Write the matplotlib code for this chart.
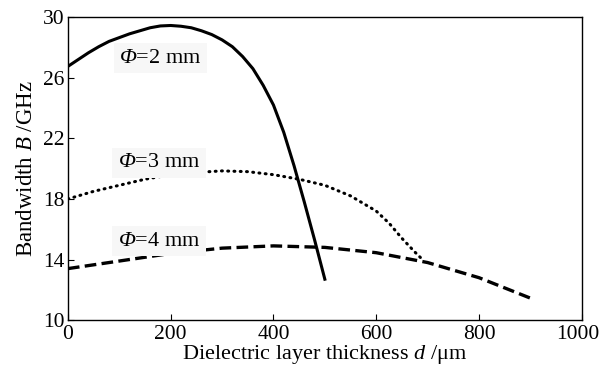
import matplotlib
matplotlib.use('Agg')
import matplotlib.pyplot as plt
import matplotlib.transforms as mtransforms

plt.rcParams['font.family'] = ['Liberation Serif', 'DejaVu Serif']
plt.rcParams['mathtext.fontset'] = 'custom'
plt.rcParams['mathtext.rm'] = 'Liberation Serif'
plt.rcParams['mathtext.it'] = 'Liberation Serif:italic'
plt.rcParams['mathtext.sf'] = 'Liberation Serif:italic'  # used for italic Phi

# Phi = 2 mm (solid)
d_2mm = [0, 20, 40, 60, 80, 100, 120, 140, 160, 180, 200, 220, 240, 260, 280, 300,
         320, 340, 360, 380, 400, 420, 440, 460, 480, 500]
b_2mm = [26.75, 27.2, 27.65, 28.05, 28.4, 28.65, 28.9, 29.1, 29.3, 29.42, 29.45, 29.4,
         29.3, 29.1, 28.85, 28.5, 28.05, 27.4, 26.6, 25.5, 24.2, 22.4, 20.2, 17.8, 15.3, 12.7]

# Phi = 3 mm (dotted)
d_3mm = [0, 50, 100, 150, 200, 250, 300, 350, 400, 450, 500, 550, 600, 625, 650, 675, 690]
b_3mm = [18.0, 18.5, 18.9, 19.3, 19.6, 19.75, 19.85, 19.8, 19.6, 19.3, 18.9, 18.2, 17.2,
         16.4, 15.4, 14.5, 14.0]

# Phi = 4 mm (dashed)
d_4mm = [0, 100, 200, 300, 400, 500, 600, 700, 800, 900]
b_4mm = [13.4, 13.9, 14.4, 14.75, 14.9, 14.8, 14.45, 13.8, 12.8, 11.45]

labels = [r'$\mathsf{\Phi}$=2 mm', r'$\mathsf{\Phi}$=3 mm', r'$\mathsf{\Phi}$=4 mm']
label_pos = [(100, 27.3), (97, 20.4), (97, 15.2)]

x_ticks = [0, 200, 400, 600, 800, 1000]
y_ticks = [10, 14, 18, 22, 26, 30]

fig = plt.figure(figsize=(6.01, 3.65), dpi=100)
ax = fig.add_axes([0.113, 0.123, 0.855, 0.830])

ax.plot(d_2mm, b_2mm, color='black', linewidth=2.2, linestyle='-')
ax.plot(d_3mm, b_3mm, color='black', linewidth=2.2, linestyle=(0, (0.3, 1.75)),
        dash_capstyle='round')
ax.plot(d_4mm, b_4mm, color='black', linewidth=2.4, linestyle=(0, (3.5, 1.6)))

for lab, (x, y) in zip(labels, label_pos):
    ax.text(x, y, lab, fontsize=16, ha='left', va='center',
            bbox=dict(facecolor='#f7f7f7', edgecolor='none', pad=4))

ax.set_xlim(0, 1000)
ax.set_ylim(10, 30)
ax.set_xticks(x_ticks)
ax.set_yticks(y_ticks)
ax.tick_params(direction='in', length=4, width=0.8, labelsize=15.5,
               top=False, right=False)
ax.tick_params(axis='x', pad=3.5)
ax.tick_params(axis='y', pad=2.5)
for s in ax.spines.values():
    s.set_linewidth(1.0)

# last x tick label sits a little to the left, as in the original
last = ax.get_xticklabels()[-1]
last.set_transform(last.get_transform() +
                   mtransforms.ScaledTranslation(-4 / 100, 0, fig.dpi_scale_trans))

ax.set_xlabel(r'Dielectric layer thickness $d$ /$\mathrm{\mu}$m', fontsize=16, labelpad=-1)
ax.set_ylabel(r'Bandwidth $B$ /GHz', fontsize=16.5, labelpad=4)

fig.savefig('out.png', dpi=100)
